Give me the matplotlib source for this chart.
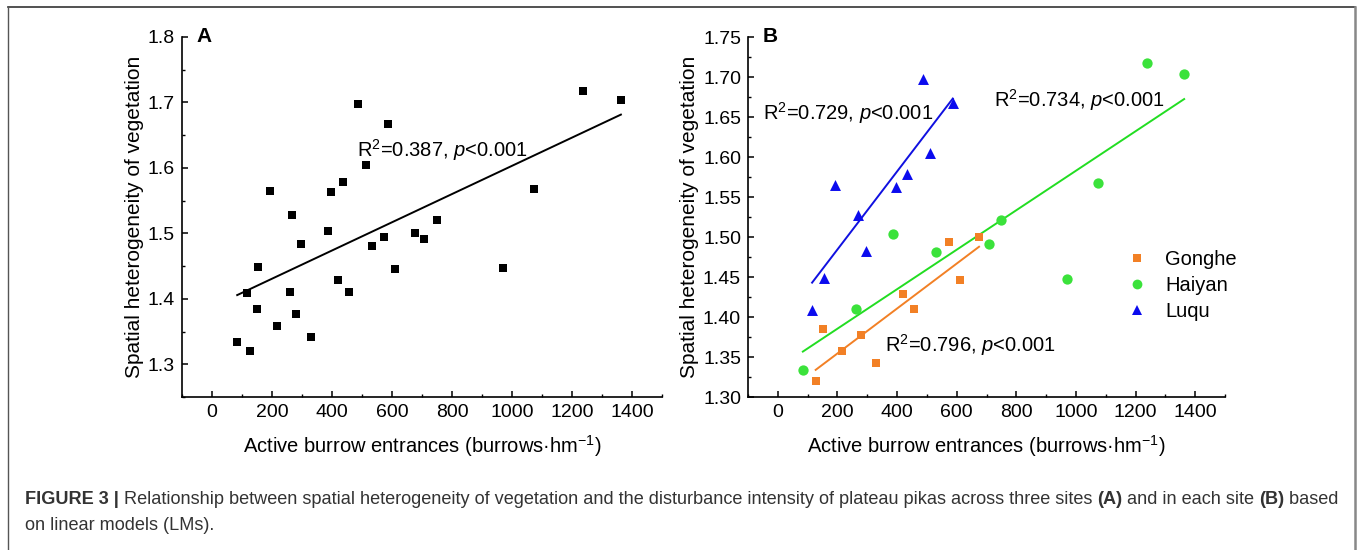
import numpy as np
import matplotlib
matplotlib.use("Agg")
import matplotlib.pyplot as plt
from matplotlib.ticker import MultipleLocator, AutoMinorLocator
from matplotlib.lines import Line2D

plt.rcParams['font.family'] = ['Liberation Sans', 'DejaVu Sans']
plt.rcParams['mathtext.fontset'] = 'custom'
plt.rcParams['mathtext.rm'] = 'Liberation Sans'
plt.rcParams['mathtext.it'] = 'Liberation Sans:italic'
plt.rcParams['mathtext.bf'] = 'Liberation Sans:bold'

# ---- data ----
gonghe_x = [127, 151, 216, 280, 331, 419, 458, 573, 610, 675]
gonghe_y = [1.320, 1.385, 1.358, 1.377, 1.342, 1.429, 1.410, 1.494, 1.446, 1.500]
haiyan_x = [84, 261, 387, 532, 708, 750, 969, 1073, 1238, 1363]
haiyan_y = [1.334, 1.410, 1.504, 1.481, 1.491, 1.521, 1.447, 1.568, 1.718, 1.704]
luqu_x = [115, 154, 192, 268, 295, 396, 435, 486, 512, 587]
luqu_y = [1.409, 1.449, 1.565, 1.528, 1.483, 1.563, 1.579, 1.698, 1.605, 1.667]
sites = ['Gonghe', 'Haiyan', 'Luqu']
r2_all = "R$^{2}$=0.387, $\\mathit{p}$<0.001"
r2_sites = {'Gonghe': "R$^{2}$=0.796, $\\mathit{p}$<0.001",
            'Haiyan': "R$^{2}$=0.734, $\\mathit{p}$<0.001",
            'Luqu': "R$^{2}$=0.729, $\\mathit{p}$<0.001"}
xticks = [0, 200, 400, 600, 800, 1000, 1200, 1400]

colors = {'Gonghe': '#F28025', 'Haiyan': '#3BE23B', 'Luqu': '#0B0BEE'}
line_colors = {'Gonghe': '#F28025', 'Haiyan': '#22DD22', 'Luqu': '#1010E0'}
markers = {'Gonghe': 's', 'Haiyan': 'o', 'Luqu': '^'}
msizes = {'Gonghe': 34, 'Haiyan': 55, 'Luqu': 62}
data = {'Gonghe': (gonghe_x, gonghe_y), 'Haiyan': (haiyan_x, haiyan_y), 'Luqu': (luqu_x, luqu_y)}

W, H = 1358, 550
fig = plt.figure(figsize=(W / 100, H / 100), dpi=100)

def px_axes(l, r, t, b):
    return fig.add_axes([l / W, 1 - b / H, (r - l) / W, (b - t) / H])

axA = px_axes(182, 662, 37, 397)
axB = px_axes(748, 1225, 37, 397)

tick_fs = 14
lab_fs = 14.5

def style(ax, ylim, ymaj):
    ax.set_xlim(-100, 1500)
    ax.set_ylim(*ylim)
    ax.set_xticks(xticks)
    ax.xaxis.set_minor_locator(MultipleLocator(100))
    ax.yaxis.set_major_locator(MultipleLocator(ymaj))
    ax.yaxis.set_minor_locator(AutoMinorLocator(2))
    for s in ['top', 'right']:
        ax.spines[s].set_visible(False)
    for s in ['left', 'bottom']:
        ax.spines[s].set_linewidth(1.2)
    ax.tick_params(which='major', direction='in', length=4, width=1.1, labelsize=tick_fs, pad=5)
    ax.tick_params(which='minor', direction='in', length=2.2, width=1.0)
    ax.set_xlabel("Active burrow entrances (burrows\u00b7hm$^{-1}$)", fontsize=lab_fs, labelpad=9)
    ax.set_ylabel("Spatial heterogeneity of vegetation", fontsize=15, labelpad=3)

# ---- Panel A ----
all_x = np.array(gonghe_x + haiyan_x + luqu_x, dtype=float)
all_y = np.array(gonghe_y + haiyan_y + luqu_y, dtype=float)
axA.scatter(all_x, all_y, marker='s', s=32, color='black', linewidths=0, zorder=3)
k, b0 = np.polyfit(all_x, all_y, 1)
xx = np.array([all_x.min(), all_x.max()])
axA.plot(xx, k * xx + b0, color='black', lw=1.4)
style(axA, (1.25, 1.8), 0.1)
axA.yaxis.set_major_formatter(matplotlib.ticker.FormatStrFormatter('%.1f'))
axA.text(484, 1.627, r2_all, fontsize=14.5, va='center', ha='left')
axA.text(0.031, 1.0, 'A', transform=axA.transAxes, fontsize=15, fontweight='bold', va='center', ha='left')

# ---- Panel B ----
handles = []
for s in sites:
    x = np.array(data[s][0], dtype=float)
    y = np.array(data[s][1], dtype=float)
    axB.scatter(x, y, marker=markers[s], s=msizes[s], color=colors[s], linewidths=0, zorder=3)
    k, b0 = np.polyfit(x, y, 1)
    xx = np.array([x.min(), x.max()])
    axB.plot(xx, k * xx + b0, color=line_colors[s], lw=1.4, zorder=2)
    handles.append(Line2D([], [], ls='none', marker=markers[s], color=colors[s],
                          markersize=np.sqrt(msizes[s]) * 0.95, markeredgewidth=0, label=s))
style(axB, (1.30, 1.75), 0.05)
axB.yaxis.set_major_formatter(matplotlib.ticker.FormatStrFormatter('%.2f'))
axB.text(-51, 1.655, r2_sites['Luqu'], fontsize=14.5, va='center', ha='left')
axB.text(726, 1.671, r2_sites['Haiyan'], fontsize=14.5, va='center', ha='left')
axB.text(361, 1.365, r2_sites['Gonghe'], fontsize=14.5, va='center', ha='left')
axB.text(0.031, 1.0, 'B', transform=axB.transAxes, fontsize=15, fontweight='bold', va='center', ha='left')
leg = axB.legend(handles=handles, loc='upper left', frameon=False, fontsize=14.5,
                 bbox_to_anchor=((1127 - 748) / 477, 1 - (250 - 37) / 360),
                 handlelength=1.0, handletextpad=0.9, labelspacing=0.35, borderpad=0, borderaxespad=0)

# ---- frame ----
fig.add_artist(Line2D([8 / W, 1355 / W], [1 - 7 / H, 1 - 7 / H], transform=fig.transFigure, color='#333333', lw=1.2))
fig.add_artist(Line2D([8 / W, 8 / W], [0, 1 - 7 / H], transform=fig.transFigure, color='#555555', lw=1.0))
fig.add_artist(Line2D([1355 / W, 1355 / W], [0, 1 - 7 / H], transform=fig.transFigure, color='#888888', lw=1.8))

# ---- caption ----
cap_fs = 13.1
cap_col = '#333333'
line1 = [("FIGURE 3 | ", 'bold'),
         ("Relationship between spatial heterogeneity of vegetation and the disturbance intensity of plateau pikas across three sites ", 'normal'),
         ("(A)", 'bold'), (" and in each site ", 'normal'), ("(B)", 'bold'), (" based", 'normal')]
line2 = [("on linear models (LMs).", 'normal')]
fig.canvas.draw()
renderer = fig.canvas.get_renderer()

def place(pieces, x0, ypx):
    x = x0
    for txt, wt in pieces:
        t = fig.text(x / W, 1 - ypx / H, txt, fontsize=cap_fs, fontweight=wt, color=cap_col,
                     va='center', ha='left')
        bb = t.get_window_extent(renderer=renderer)
        x += bb.width

place(line1, 25, 500)
place(line2, 25, 526)

fig.savefig('out.png', dpi=100)
